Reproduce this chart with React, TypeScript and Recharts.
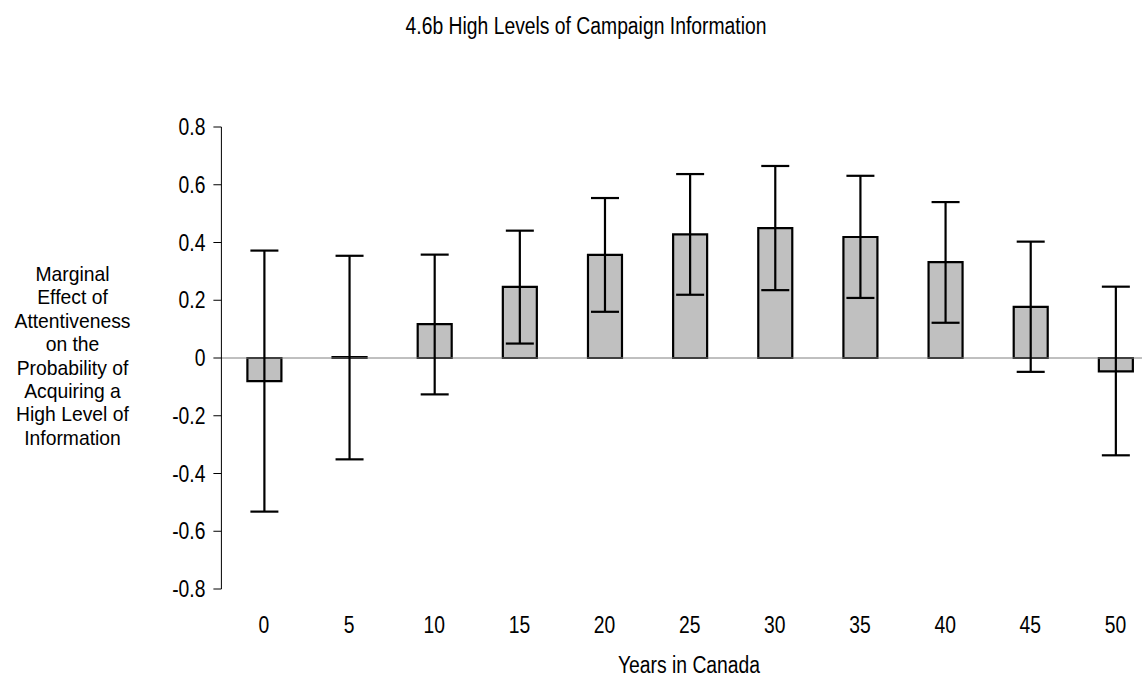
import React from "react";
import {
  BarChart,
  Bar,
  XAxis,
  YAxis,
  ErrorBar,
  ReferenceLine,
} from "recharts";

const years = ["0", "5", "10", "15", "20", "25", "30", "35", "40", "45", "50"];
const effect = [-0.08, 0.003, 0.117, 0.246, 0.357, 0.428, 0.45, 0.419, 0.332, 0.177, -0.046];
const lower = [-0.532, -0.351, -0.126, 0.05, 0.16, 0.219, 0.235, 0.208, 0.122, -0.048, -0.337];
const upper = [0.372, 0.354, 0.358, 0.441, 0.554, 0.637, 0.665, 0.631, 0.54, 0.403, 0.247];
const yTicks = [-0.8, -0.6, -0.4, -0.2, 0, 0.2, 0.4, 0.6, 0.8];
const yTitle = [
  "Marginal",
  "Effect of",
  "Attentiveness",
  "on the",
  "Probability of",
  "Acquiring a",
  "High Level of",
  "Information",
];

const data = years.map((name, i) => ({
  name,
  value: effect[i],
  err: [effect[i] - lower[i], upper[i] - effect[i]],
}));

const font = '"Liberation Sans", Arial, sans-serif';
const FS = 23;
const SX = 0.84; // reference text is condensed

const XTick = (props: any) => {
  const { x, y, payload } = props;
  return (
    <text
      transform={`translate(${x},${y}) scale(${SX},1)`}
      textAnchor="middle"
      dy="0.71em"
      fontSize={FS}
      fontFamily={font}
      fill="#000"
    >
      {payload.value}
    </text>
  );
};

const YTick = (props: any) => {
  const { x, y, payload } = props;
  const v: number = payload.value;
  return (
    <text
      transform={`translate(${x},${y}) scale(${SX},1)`}
      textAnchor="end"
      dy="0.355em"
      fontSize={FS}
      fontFamily={font}
      fill="#000"
    >
      {v === 0 ? "0" : v.toFixed(1)}
    </text>
  );
};

const squeeze: React.CSSProperties = {
  position: "absolute",
  textAlign: "center",
  fontSize: FS,
  transform: `scaleX(${SX})`,
  transformOrigin: "center",
};

export default function App() {
  return (
    <div
      style={{
        position: "absolute",
        left: 0,
        top: 0,
        width: 1142,
        height: 677,
        overflow: "hidden",
        background: "#fff",
        fontFamily: font,
        color: "#000",
      }}
    >
      <div style={{ ...squeeze, top: 13, left: 286, width: 600 }}>
        4.6b High Levels of Campaign Information
      </div>
      <div
        style={{
          ...squeeze,
          top: 262,
          left: 0,
          width: 145,
          fontSize: 21,
          lineHeight: "23.4px",
          transform: "scaleX(0.92)",
        }}
      >
        {yTitle.map((line) => (
          <div key={line}>{line}</div>
        ))}
      </div>
      <div style={{ ...squeeze, top: 652, left: 489, width: 400 }}>
        Years in Canada
      </div>
      <BarChart
        width={1170}
        height={677}
        data={data}
        margin={{ top: 127, right: 12, bottom: 28, left: 0 }}
        barCategoryGap="30%"
      >
        <XAxis
          dataKey="name"
          axisLine={false}
          tickLine={false}
          tickSize={0}
          tickMargin={28}
          height={60}
          interval={0}
          tick={<XTick />}
        />
        <YAxis
          width={221.4}
          domain={[-0.8, 0.8]}
          ticks={yTicks}
          allowDataOverflow
          interval={0}
          tickSize={8}
          tickMargin={8}
          axisLine={{ stroke: "#000", strokeWidth: 1 }}
          tickLine={{ stroke: "#000", strokeWidth: 1 }}
          tick={<YTick />}
        />
        <ReferenceLine y={0} stroke="#808080" strokeWidth={1} />
        <Bar
          dataKey="value"
          fill="#c0c0c0"
          stroke="#000"
          strokeWidth={2.2}
          barSize={34}
          isAnimationActive={false}
        >
          <ErrorBar dataKey="err" width={14} stroke="#000" strokeWidth={2.2} direction="y" />
        </Bar>
      </BarChart>
    </div>
  );
}
